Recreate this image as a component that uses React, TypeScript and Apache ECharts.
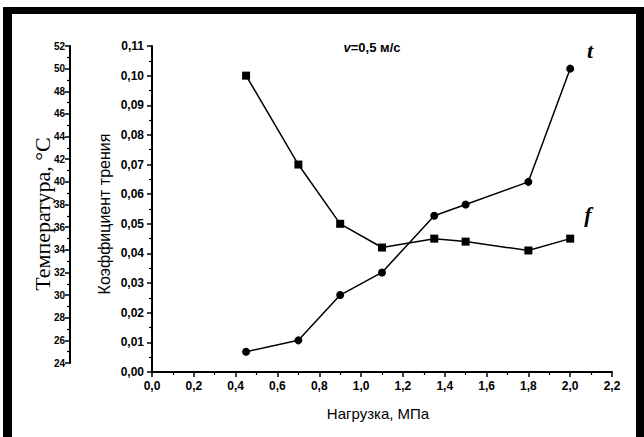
import React, { useEffect, useRef } from "react";
import * as echarts from "echarts";

// Load (MPa) for each measured point
const loadValues = [0.45, 0.7, 0.9, 1.1, 1.35, 1.5, 1.8, 2.0];
// Friction coefficient f
const frictionValues = [0.1, 0.07, 0.05, 0.042, 0.045, 0.044, 0.041, 0.045];
// Temperature t, °C
const temperatureValues = [25, 26, 30, 32, 37, 38, 40, 50];

const xTitle = "Нагрузка, МПа";
const frictionTitle = "Коэффициент трения";
const temperatureTitle = "Температура, °C";
const speedTitle = "=0,5 м/с";

export default function App() {
  const ref = useRef<HTMLDivElement>(null);

  useEffect(() => {
    document.body.style.margin = "0";
    if (!ref.current) return;
    const chart = echarts.init(ref.current, undefined, { renderer: "svg" });
    const black = "#000";
    const sans = "'Liberation Sans', Arial, sans-serif";
    const serif = "'Liberation Serif', 'Times New Roman', serif";

    const axisCommon = {
      axisLine: { show: true, onZero: false, lineStyle: { color: black, width: 2 } },
      axisTick: { show: true, length: 5, lineStyle: { color: black, width: 1.5 } },
      minorTick: { show: true, splitNumber: 2, length: 3, lineStyle: { color: black, width: 1.2 } },
      splitLine: { show: false },
      minorSplitLine: { show: false },
    };

    chart.setOption({
      animation: false,
      backgroundColor: "#fff",
      grid: [
        { left: 152, right: 32, top: 46, bottom: 65 },
        { left: 152, right: 32, top: 46, bottom: 74 },
      ],
      xAxis: [
        {
          gridIndex: 0,
          type: "value",
          min: 0,
          max: 2.2,
          interval: 0.2,
          ...axisCommon,
          axisLabel: {
            color: black,
            fontFamily: sans,
            fontWeight: "bold",
            fontSize: 12,
            margin: 8,
            formatter: (v: number) => v.toFixed(1).replace(".", ","),
          },
        },
        { gridIndex: 1, type: "value", min: 0, max: 2.2, show: false },
      ],
      yAxis: [
        {
          gridIndex: 0,
          type: "value",
          min: 0,
          max: 0.11,
          interval: 0.01,
          ...axisCommon,
          axisLabel: {
            color: black,
            fontFamily: sans,
            fontWeight: "bold",
            fontSize: 12,
            margin: 8,
            formatter: (v: number) => v.toFixed(2).replace(".", ","),
          },
        },
        {
          gridIndex: 1,
          type: "value",
          position: "left",
          offset: 82,
          min: 24,
          max: 52,
          interval: 2,
          ...axisCommon,
          axisLabel: {
            color: black,
            fontFamily: sans,
            fontWeight: "bold",
            fontSize: 10,
            margin: 5,
            formatter: (v: number) => String(v),
          },
        },
      ],
      series: [
        {
          name: "f",
          type: "line",
          xAxisIndex: 0,
          yAxisIndex: 0,
          data: loadValues.map((x, i) => [x, frictionValues[i]]),
          symbol: "rect",
          symbolSize: 8,
          lineStyle: { color: black, width: 1.5 },
          itemStyle: { color: black },
        },
        {
          name: "t",
          type: "line",
          xAxisIndex: 1,
          yAxisIndex: 1,
          data: loadValues.map((x, i) => [x, temperatureValues[i]]),
          symbol: "circle",
          symbolSize: 8,
          lineStyle: { color: black, width: 1.5 },
          itemStyle: { color: black },
        },
      ],
      graphic: [
        { type: "rect", shape: { x: 3, y: 7, width: 641, height: 7 }, style: { fill: black } },
        { type: "rect", shape: { x: 3, y: 7, width: 9, height: 430 }, style: { fill: black } },
        { type: "rect", shape: { x: 636, y: 7, width: 8, height: 430 }, style: { fill: black } },
        {
          type: "text",
          x: 372,
          y: 47,
          style: {
            text: "{i|v}{n|" + speedTitle + "}",
            align: "center",
            verticalAlign: "middle",
            rich: {
              i: { fontFamily: sans, fontStyle: "italic", fontWeight: "bold", fontSize: 13, fill: black },
              n: { fontFamily: sans, fontWeight: "bold", fontSize: 13, fill: black },
            },
          },
        },
        {
          type: "text",
          x: 590,
          y: 50,
          style: {
            text: "t",
            fontFamily: serif,
            fontStyle: "italic",
            fontWeight: "bold",
            fontSize: 22,
            fill: black,
            align: "center",
            verticalAlign: "middle",
          },
        },
        {
          type: "text",
          x: 588,
          y: 214,
          style: {
            text: "f",
            fontFamily: serif,
            fontStyle: "italic",
            fontWeight: "bold",
            fontSize: 22,
            fill: black,
            align: "center",
            verticalAlign: "middle",
          },
        },
        {
          type: "text",
          x: 42,
          y: 214,
          rotation: Math.PI / 2,
          style: {
            text: temperatureTitle,
            fontFamily: serif,
            fontSize: 22,
            fill: black,
            align: "center",
            verticalAlign: "middle",
          },
        },
        {
          type: "text",
          x: 104,
          y: 214,
          rotation: Math.PI / 2,
          style: {
            text: frictionTitle,
            fontFamily: sans,
            fontSize: 16,
            fill: black,
            align: "center",
            verticalAlign: "middle",
          },
        },
        {
          type: "text",
          x: 378,
          y: 413,
          style: {
            text: xTitle,
            fontFamily: sans,
            fontSize: 15,
            fill: black,
            align: "center",
            verticalAlign: "middle",
          },
        },
      ],
    });

    return () => chart.dispose();
  }, []);

  return <div ref={ref} style={{ width: 644, height: 437 }} />;
}
